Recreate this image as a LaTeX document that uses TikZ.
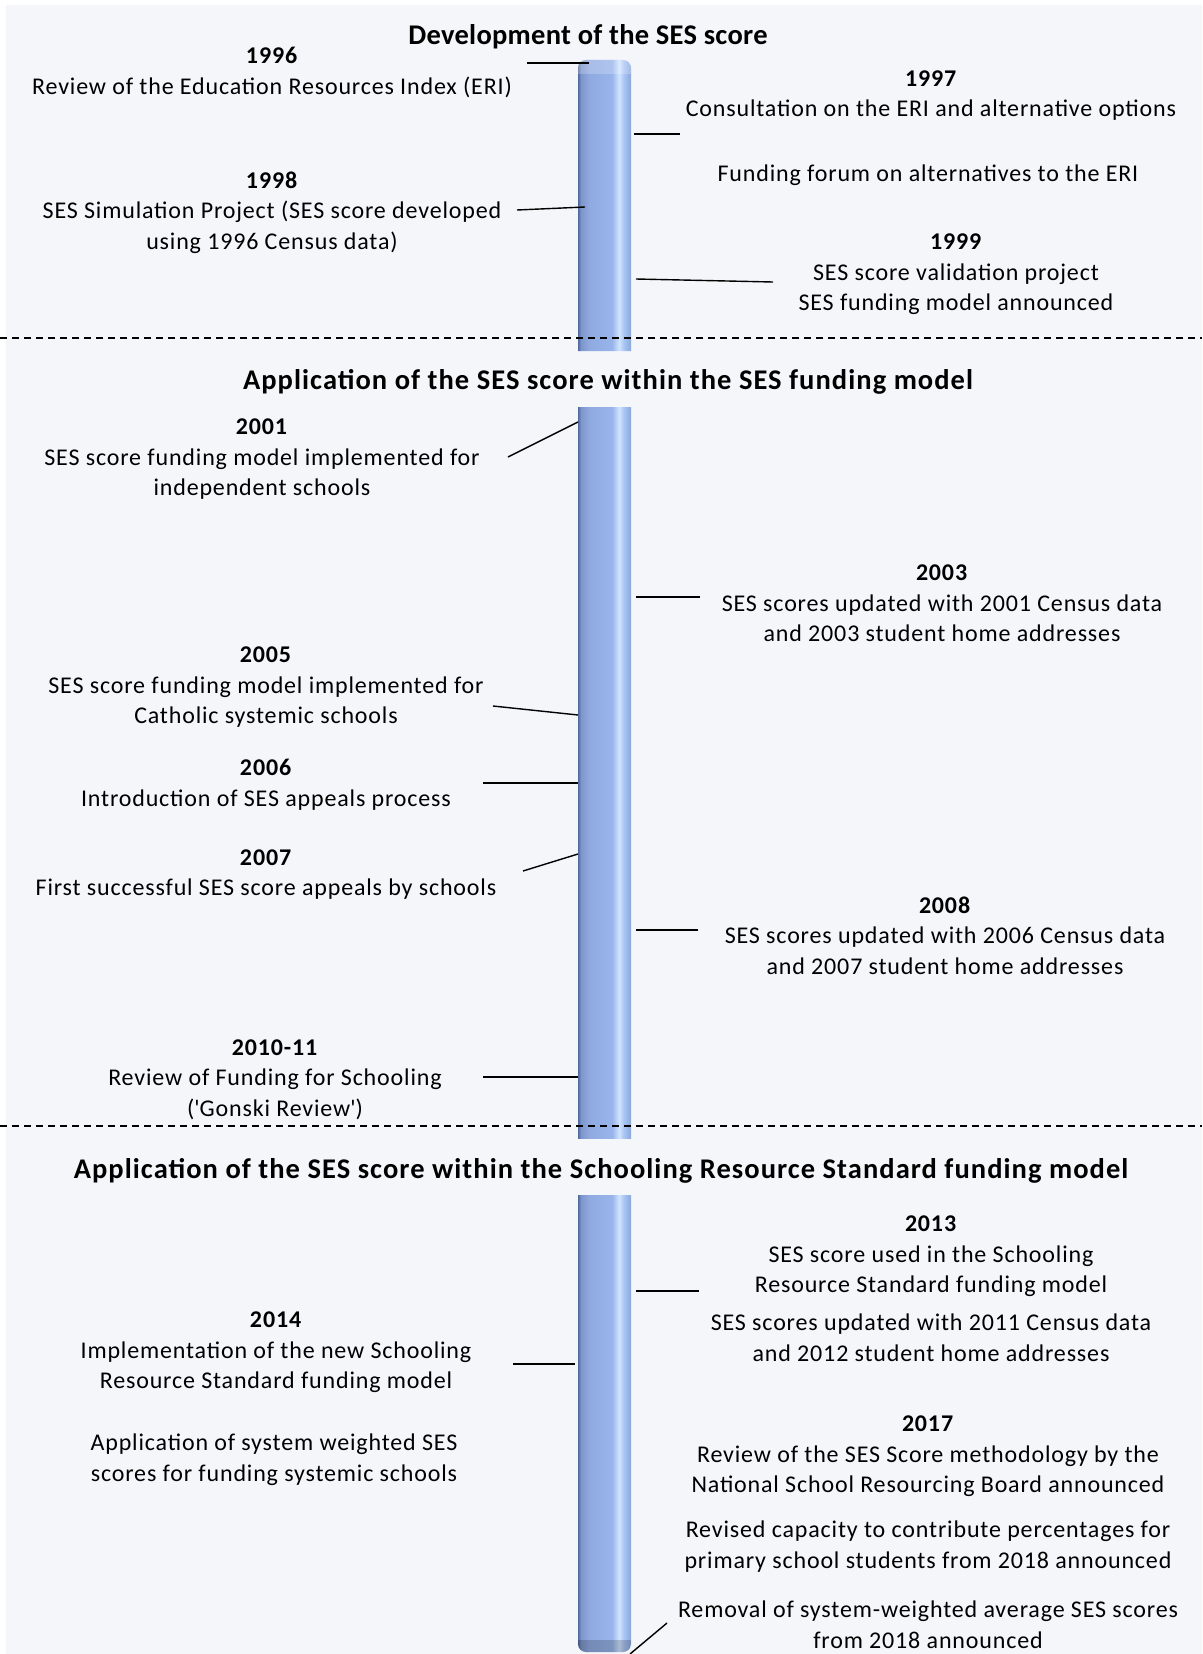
\documentclass[tikz,border=0pt]{standalone}
\usepackage{fontspec}
\setmainfont{Carlito}[LetterSpace=3.5]
\newfontfamily\ttlfam{Carlito}[LetterSpace=1.0]
\newfontfamily\ttlfamw{Carlito}[LetterSpace=3.7]
\definecolor{bgc}{RGB}{245,246,250}
\definecolor{bA}{RGB}{80,106,160}
\definecolor{bB}{RGB}{125,150,204}
\definecolor{bC}{RGB}{143,170,224}
\definecolor{bD}{RGB}{152,180,234}
\definecolor{bE}{RGB}{208,228,255}
\definecolor{bF}{RGB}{168,196,242}
\definecolor{bG}{RGB}{138,168,220}
\newcommand\evfont{\fontsize{24}{30.5}\selectfont}
\newcommand\ttlfont{\ttlfam\fontsize{28.5}{32}\selectfont\bfseries}
\newcommand\ttlfontw{\ttlfamw\fontsize{28.5}{32}\selectfont\bfseries}
\newcommand\barstrips[2]{%
  \shade[left color=bA,right color=bB] (578,#1) rectangle (581,#2);
  \shade[left color=bB,right color=bC] (581,#1) rectangle (589,#2);
  \shade[left color=bC,right color=bD] (589,#1) rectangle (612,#2);
  \shade[left color=bD,right color=bE] (612,#1) rectangle (619,#2);
  \shade[left color=bE,right color=bF] (619,#1) rectangle (624,#2);
  \shade[left color=bF,right color=bG] (624,#1) rectangle (631,#2);}
\begin{document}
\begin{tikzpicture}[x=1pt,y=-1pt,
  ev/.style={align=center,font=\evfont,inner sep=0pt,yshift=-2.5pt},
  ttl/.style={align=center,font=\ttlfont,inner sep=0pt,yshift=-2.5pt},
  ttlw/.style={align=center,font=\ttlfontw,inner sep=0pt,yshift=-2.5pt},
  conn/.style={line width=1.4pt,black},
  sep/.style={line width=1.2pt,dash pattern=on 7pt off 5pt}]
\useasboundingbox (0,0) rectangle (1202,1654);
\fill[white] (0,0) rectangle (1202,1654);
\fill[bgc] (6,5) rectangle (1202,1654);
% bar segment 1
\begin{scope}
\clip (578,351) -- (578,68) arc[start angle=180,end angle=270,radius=8] -- (623,60) arc[start angle=270,end angle=360,radius=8] -- (631,351) -- cycle;
\barstrips{60}{351}
\fill[white,opacity=0.22] (578,74) -- (578,60) -- (631,60) -- (631,74) -- cycle;
\end{scope}
% bar segment 2
\begin{scope}
\clip (578,407) rectangle (631,1138);
\barstrips{407}{1138}
\end{scope}
% bar segment 3
\begin{scope}
\clip (578,1195) -- (578,1644) arc[start angle=180,end angle=90,radius=8] -- (623,1652) arc[start angle=90,end angle=0,radius=8] -- (631,1195) -- cycle;
\barstrips{1195}{1654}
\fill[black,opacity=0.18] (578,1640) rectangle (631,1654);
\end{scope}
% separators
\draw[sep] (0,338) -- (1202,338);
\draw[sep] (0,1126) -- (1202,1126);
% titles
\node[ttl] (t1) at (588,34) {Development of the SES score};
\node[ttlw] (t2) at (608,379) {Application of the SES score within the SES funding model};
\node[ttlw] (t3) at (601,1168) {Application of the SES score within the Schooling Resource Standard funding model};
% events left
\node[ev] (e1996) at (272,70) {\textbf{1996}\\Review of the Education Resources Index (ERI)};
\node[ev] (e1998) at (272,210) {\textbf{1998}\\SES Simulation Project (SES score developed\\using 1996 Census data)};
\node[ev] (e2001) at (262,457) {\textbf{2001}\\SES score funding model implemented for\\independent schools};
\node[ev] (e2005) at (266,685) {\textbf{2005}\\SES score funding model implemented for\\Catholic systemic schools};
\node[ev] (e2006) at (266,782) {\textbf{2006}\\Introduction of SES appeals process};
\node[ev] (e2007) at (266,872) {\textbf{2007}\\First successful SES score appeals by schools};
\node[ev] (e2010) at (275,1077) {\textbf{2010-11}\\Review of Funding for Schooling\\(\textquotesingle Gonski Review\textquotesingle)};
\node[ev] (e2014) at (276,1350) {\textbf{2014}\\Implementation of the new Schooling\\Resource Standard funding model};
\node[ev] (e2014b) at (274,1457) {Application of system weighted SES\\scores for funding systemic schools};
% events right
\node[ev] (e1997) at (931,93) {\textbf{1997}\\Consultation on the ERI and alternative options};
\node[ev] (eforum) at (928,173) {Funding forum on alternatives to the ERI};
\node[ev] (e1999) at (956,272) {\textbf{1999}\\SES score validation project\\SES funding model announced};
\node[ev] (e2003) at (942,601) {\textbf{2003}\\SES scores updated with 2001 Census data\\and 2003 student home addresses};
\node[ev] (e2008) at (945,933) {\textbf{2008}\\SES scores updated with 2006 Census data\\and 2007 student home addresses};
\node[ev] (e2013) at (931,1254) {\textbf{2013}\\SES score used in the Schooling\\Resource Standard funding model};
\node[ev] (e2013b) at (931,1335) {SES scores updated with 2011 Census data\\and 2012 student home addresses};
\node[ev] (e2017) at (928,1454) {\textbf{2017}\\Review of the SES Score methodology by the\\National School Resourcing Board announced};
\node[ev] (e2017b) at (928,1544) {Revised capacity to contribute percentages for\\primary school students from 2018 announced};
\node[ev] (e2017c) at (928,1622) {Removal of system-weighted average SES scores\\from 2018 announced};
% connector end points
\coordinate (a1996) at (527,63);  \coordinate (b1996) at (589,63);
\coordinate (a1997) at (680,134); \coordinate (b1997) at (634,134);
\coordinate (a1998) at (517,210); \coordinate (b1998) at (585,207);
\coordinate (a1999) at (773,282); \coordinate (b1999) at (636,279);
\coordinate (a2001) at (508,457); \coordinate (b2001) at (578,422);
\coordinate (a2003) at (700,597); \coordinate (b2003) at (636,597);
\coordinate (a2005) at (493,706); \coordinate (b2005) at (578,715);
\coordinate (a2006) at (483,783); \coordinate (b2006) at (578,783);
\coordinate (a2007) at (523,871); \coordinate (b2007) at (578,854);
\coordinate (a2008) at (698,930); \coordinate (b2008) at (636,930);
\coordinate (a2010) at (483,1077); \coordinate (b2010) at (578,1077);
\coordinate (a2013) at (699,1291); \coordinate (b2013) at (636,1291);
\coordinate (a2014) at (513,1364); \coordinate (b2014) at (575,1364);
\coordinate (a2017) at (667,1623); \coordinate (b2017) at (630,1654);
\foreach \y in {1996,1997,1998,1999,2001,2003,2005,2006,2007,2008,2010,2013,2014,2017}
  \draw[conn] (a\y) -- (b\y);
\end{tikzpicture}
\end{document}
